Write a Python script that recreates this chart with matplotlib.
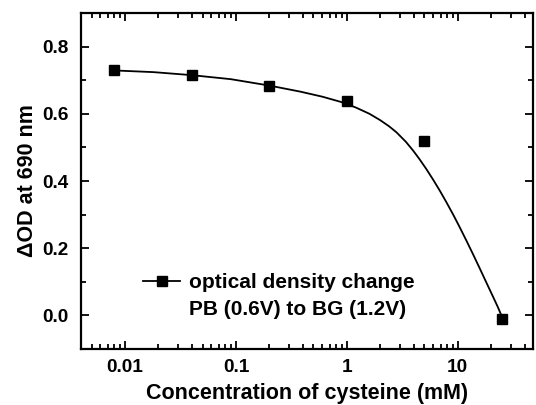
import numpy as np
import matplotlib
matplotlib.use("Agg")
import matplotlib.pyplot as plt
from matplotlib.lines import Line2D
from matplotlib.ticker import LogLocator, FixedLocator, NullFormatter

plt.rcParams['font.family'] = ['Liberation Sans', 'DejaVu Sans']
plt.rcParams['font.weight'] = 'bold'

# measured points
conc = [0.008, 0.04, 0.2, 1, 5, 25]          # mM
dod = [0.729, 0.715, 0.683, 0.639, 0.518, -0.010]

# fitted curve
fit_conc = [0.008, 0.018, 0.04, 0.09, 0.2, 0.38, 0.6, 0.87, 1.2, 1.6, 2.0, 2.4, 2.8, 3.4,
            3.95, 4.5, 5.2, 6.0, 6.9, 7.9, 9.1, 10.4, 12, 13.7, 15.8, 18, 20.8, 23, 25]
fit_dod = [0.729, 0.724, 0.715, 0.703, 0.684, 0.666, 0.651, 0.636, 0.619, 0.600, 0.581,
           0.563, 0.545, 0.517, 0.491, 0.466, 0.436, 0.404, 0.371, 0.337, 0.300, 0.263,
           0.222, 0.183, 0.140, 0.100, 0.056, 0.025, -0.003]

xticks = [0.01, 0.1, 1, 10]
xticklabels = ["0.01", "0.1", "1", "10"]
yticks = [0.0, 0.2, 0.4, 0.6, 0.8]

fig = plt.figure(figsize=(5.36, 4.05), dpi=100)
ax = fig.add_axes([0.151, 0.138, 0.843, 0.830])

ax.plot(fit_conc, fit_dod, color='black', lw=1.3)
ax.plot(conc, dod, ls='none', marker='s', ms=7.5, color='black')

ax.set_xscale('log')
ax.set_xlim(0.004, 47.5)
ax.set_ylim(-0.1, 0.9)

ax.xaxis.set_major_locator(FixedLocator(xticks))
ax.set_xticklabels(xticklabels)
ax.xaxis.set_minor_locator(LogLocator(base=10, subs=np.arange(2, 10)))
ax.xaxis.set_minor_formatter(NullFormatter())
ax.set_yticks(yticks)
ax.set_yticklabels(["%.1f" % v for v in yticks])
ax.yaxis.set_minor_locator(FixedLocator([-0.1, 0.1, 0.3, 0.5, 0.7, 0.9]))

ax.tick_params(which='both', direction='in', top=True, right=True, width=1.3,
               labelsize=13.7)
ax.tick_params(axis='x', pad=7)
ax.tick_params(axis='y', pad=9)
ax.tick_params(which='major', length=6)
ax.tick_params(which='minor', length=3.5)
for s in ax.spines.values():
    s.set_linewidth(1.6)

ax.set_xlabel("Concentration of cysteine (mM)", fontsize=15.5, fontweight='bold', labelpad=5)
ax.set_ylabel("\u0394OD at 690 nm", fontsize=15.5, fontweight='bold', labelpad=3)

h = Line2D([], [], color='black', lw=1.3, marker='s', ms=7.5)
blank = Line2D([], [], color='none')
ax.legend([h, blank], ["optical density change", "PB (0.6V) to BG (1.2V)"], loc='upper left',
          bbox_to_anchor=(0.137, 0.226), frameon=False, fontsize=15,
          handlelength=1.8, handletextpad=0.4, borderpad=0, borderaxespad=0,
          labelspacing=0.4)

fig.savefig("out.png", dpi=100)
